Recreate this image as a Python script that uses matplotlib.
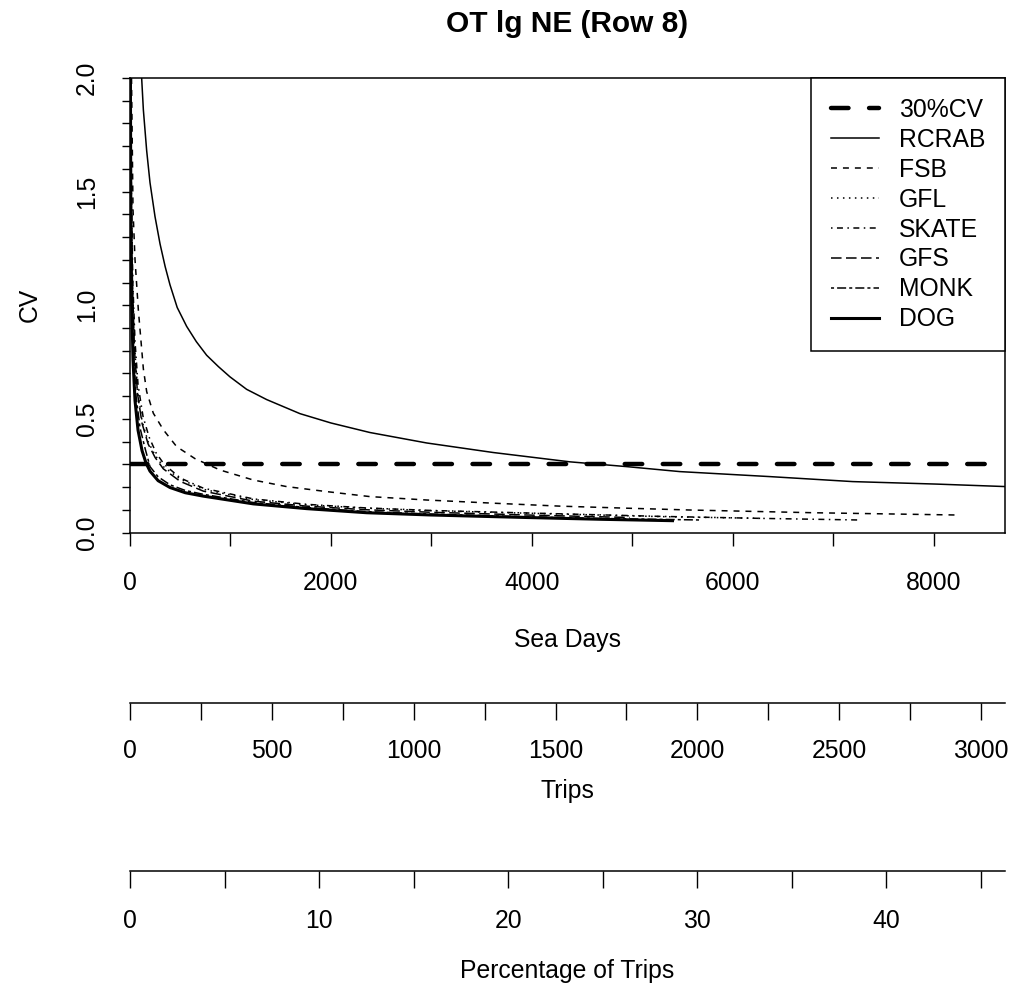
import numpy as np
import matplotlib
matplotlib.use("Agg")
import matplotlib.pyplot as plt

plt.rcParams['font.family'] = ['Liberation Sans', 'DejaVu Sans']
plt.rcParams['lines.scale_dashes'] = False

# data (sea days vs CV)
rcrab_x = [116, 133, 166, 199, 249, 299, 350, 398, 470, 564, 660, 763, 880, 995, 1161, 1360,
           1692, 2000, 2388, 2953, 3615, 4378, 4942, 5473, 6368, 7194, 8030, 8720]
rcrab_y = [2.0, 1.86, 1.68, 1.54, 1.39, 1.27, 1.17, 1.09, 0.99, 0.907, 0.84, 0.78, 0.73, 0.685,
           0.63, 0.585, 0.523, 0.482, 0.44, 0.394, 0.352, 0.311, 0.290, 0.268, 0.246, 0.224,
           0.213, 0.202]
fsb_x = [15, 30, 50, 83, 133, 166, 232, 332, 464, 647, 896, 1227, 1559, 1957, 2388, 2952,
         3615, 4279, 4942, 5572, 6799, 8226]
fsb_y = [2.0, 1.42, 1.2, 0.98, 0.72, 0.62, 0.525, 0.452, 0.378, 0.325, 0.275, 0.231, 0.202,
         0.180, 0.158, 0.143, 0.129, 0.116, 0.107, 0.099, 0.087, 0.077]
gfl_x = [6, 12, 25, 45, 75, 120, 180, 250, 332, 500, 730, 1227, 1758, 2355, 3000, 3947, 5274,
         6300]
gfl_y = [2.0, 1.5, 1.1, 0.82, 0.63, 0.49, 0.40, 0.34, 0.29, 0.235, 0.19, 0.145, 0.122, 0.107,
         0.096, 0.085, 0.070, 0.062]
skate_x = [7, 14, 28, 50, 80, 130, 190, 260, 340, 500, 730, 1227, 1758, 2355, 3000, 3947,
           5274, 6300, 7264]
skate_y = [2.0, 1.5, 1.1, 0.84, 0.65, 0.51, 0.42, 0.35, 0.30, 0.24, 0.195, 0.148, 0.124,
           0.108, 0.097, 0.086, 0.071, 0.062, 0.055]
gfs_x = [6, 12, 25, 45, 75, 120, 180, 250, 332, 500, 730, 1227, 1758, 2355, 3000, 3947, 4975]
gfs_y = [2.0, 1.48, 1.08, 0.80, 0.61, 0.48, 0.39, 0.33, 0.28, 0.225, 0.182, 0.138, 0.116,
         0.100, 0.089, 0.077, 0.066]
monk_x = [5, 10, 20, 35, 60, 100, 150, 199, 280, 398, 550, 730, 1227, 1758, 2355, 3000, 3947,
          4800, 5690]
monk_y = [2.0, 1.45, 1.05, 0.80, 0.60, 0.46, 0.37, 0.29, 0.245, 0.21, 0.185, 0.168, 0.132,
          0.110, 0.092, 0.081, 0.069, 0.061, 0.055]
dog_x = [4, 8, 15, 30, 50, 80, 120, 160, 199, 280, 398, 550, 730, 1227, 1758, 2355, 3000,
         3947, 4700, 5400]
dog_y = [2.0, 1.45, 1.05, 0.76, 0.58, 0.45, 0.36, 0.305, 0.27, 0.228, 0.198, 0.175, 0.160,
         0.126, 0.105, 0.087, 0.077, 0.066, 0.058, 0.052]
cv_target = 0.3

sea_ticks = list(range(0, 9000, 1000))
sea_labels = ['0', '', '2000', '', '4000', '', '6000', '', '8000']
cv_ticks = [round(v * 0.1, 1) for v in range(21)]
cv_labels = ['0.0', '', '', '', '', '0.5', '', '', '', '', '1.0', '', '', '', '', '1.5',
             '', '', '', '', '2.0']
trip_ticks = list(range(0, 3001, 250))
trip_labels = ['0', '', '500', '', '1000', '', '1500', '', '2000', '', '2500', '', '3000']
pct_ticks = list(range(0, 46, 5))
pct_labels = ['0', '', '10', '', '20', '', '30', '', '40', '']

sea_max = 8710
trip_max = 3084.6
pct_max = 46.27

W, H = 1009, 989
fig = plt.figure(figsize=(W / 100, H / 100), dpi=100)
L = 130 / W
Wd = 875 / W
ax = fig.add_axes([L, 1 - 532.5 / H, Wd, 454.5 / H])

thin = 1.1
ax.axhline(cv_target, color='black', lw=3.2, dashes=(12.6, 14.8),
           dash_capstyle='round', label='30%CV')
ax.plot(rcrab_x, rcrab_y, color='black', lw=thin, label='RCRAB')
ax.plot(fsb_x, fsb_y, color='black', lw=thin, dashes=(4.3, 4.3), label='FSB')
ax.plot(gfl_x, gfl_y, color='black', lw=thin, dashes=(1.1, 3.2), label='GFL')
ax.plot(skate_x, skate_y, color='black', lw=thin, dashes=(1.1, 3.2, 4.3, 3.2), label='SKATE')
ax.plot(gfs_x, gfs_y, color='black', lw=thin, dashes=(7.6, 3.2), label='GFS')
ax.plot(monk_x, monk_y, color='black', lw=thin, dashes=(2.2, 2.2, 6.5, 2.2), label='MONK')
ax.plot(dog_x, dog_y, color='black', lw=2.2, label='DOG')

ax.set_xlim(0, sea_max)
ax.set_ylim(0, 2.0)
ax.set_xticks(sea_ticks)
ax.set_xticklabels(sea_labels)
ax.set_yticks(cv_ticks)
ax.set_yticklabels(cv_labels, rotation=90, va='center')
ax.tick_params(axis='x', length=9, width=1.0, pad=18.4, labelsize=17.8)
ax.tick_params(axis='y', length=6, width=1.0, pad=16.4, labelsize=17.8)
for s in ax.spines.values():
    s.set_linewidth(1.1)
ax.set_xlabel('Sea Days', fontsize=17.8, labelpad=24)
ax.set_ylabel('CV', fontsize=17.8, labelpad=24)
ax.set_title('OT lg NE (Row 8)', fontsize=21.5, fontweight='bold', pad=33)

leg = ax.legend(loc='upper right', bbox_to_anchor=(1, 1), borderaxespad=0,
                fontsize=17.8, handlelength=1.95, handletextpad=0.8,
                labelspacing=0.24, borderpad=0.8, fancybox=False, framealpha=1)
leg.get_frame().set_edgecolor('black')
leg.get_frame().set_linewidth(1.1)


def extra_axis(ypix, xmax, ticks, labels, title, tpad, lpad):
    a = fig.add_axes([L, 1 - ypix / H, Wd, 1e-4])
    a.set_facecolor('none')
    for k in ('left', 'right', 'top'):
        a.spines[k].set_visible(False)
    a.spines['bottom'].set_linewidth(1.1)
    a.set_yticks([])
    a.set_xlim(0, xmax)
    a.set_xticks(ticks)
    a.set_xticklabels(labels)
    a.tick_params(axis='x', length=12, width=1.0, pad=tpad, labelsize=17.8)
    a.set_xlabel(title, fontsize=17.8, labelpad=lpad)
    return a


extra_axis(703, trip_max, trip_ticks, trip_labels, 'Trips', 14.2, 11)
extra_axis(871, pct_max, pct_ticks, pct_labels, 'Percentage of Trips', 15, 19)

fig.savefig('out.png', dpi=100)
